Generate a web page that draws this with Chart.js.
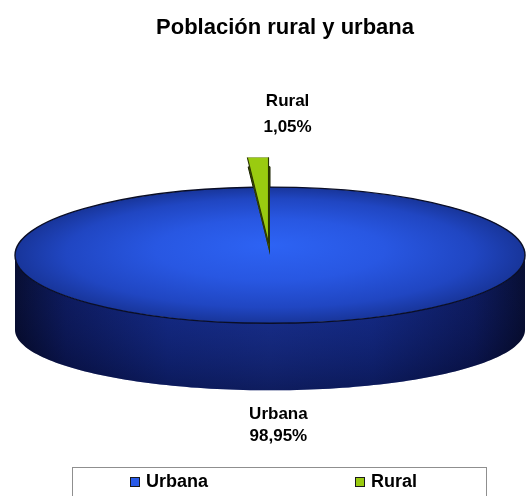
<!DOCTYPE html>
<html lang="es">
<head>
<meta charset="utf-8">
<title>Población rural y urbana</title>
<script src="https://cdn.jsdelivr.net/npm/chart.js@4.4.1/dist/chart.umd.min.js"></script>
<style>
  html, body { margin: 0; padding: 0; background: #fff; }
  #box { width: 527px; height: 496px; position: relative; }
</style>
</head>
<body>
<div id="box"><canvas id="poblacion"></canvas></div>
<script>
const categorias = ['Urbana', 'Rural'];
const porcentajes = [98.95, 1.05];
const coloresCara = ['#2a5be8', '#9acb10'];   // top faces, legend squares
const coloresLado = ['#13267c', '#3f5400'];   // walls / cut faces

const FONT = "'Liberation Sans', Arial, sans-serif";
const RADIO = 100;          // pie radius before flattening
const INCLINACION = 0.267;  // ry / rx of the top face
const ALTO = 0.292;         // wall height / rx
const FONDO = 0.238;        // ry of the bottom rim / rx
const ALZA = 12;            // px the small slice is pulled out
const ESTIRA = 1.26;        // the pulled slice leans towards the viewer

const pct = v => v.toFixed(2).replace('.', ',') + '%';

function geo(chart) {
  const arc = chart.getDatasetMeta(0).data[0];
  const rx = chart.chartArea.width / 2 - 2;
  const ry = rx * INCLINACION;
  return {
    cx: arc.x, cy: arc.y, R: arc.outerRadius, rx, ry,
    sx: rx / arc.outerRadius, sy: ry / arc.outerRadius,
    wall: rx * ALTO, floor: rx * FONDO
  };
}

// scale about the pie centre so the circle becomes the flat ellipse
function aplanar(ctx, g) {
  ctx.translate(g.cx, g.cy);
  ctx.scale(g.sx, g.sy);
  ctx.translate(-g.cx, -g.cy);
}

function colorCara(c) {
  const ca = c.chart.chartArea;
  if (!ca || c.dataIndex !== 0) return coloresCara[c.dataIndex];
  const cx = (ca.left + ca.right) / 2, cy = (ca.top + ca.bottom) / 2;
  const grad = c.chart.ctx.createRadialGradient(cx, cy - RADIO * 0.15, 0, cx, cy, RADIO);
  grad.addColorStop(0, '#2d63f4');
  grad.addColorStop(0.45, '#2857e2');
  grad.addColorStop(0.8, '#2046c2');
  grad.addColorStop(1, '#18359a');
  return grad;
}

function pared(ctx, g, s, e) {
  const n = 120;
  ctx.beginPath();
  for (let k = 0; k <= n; k++) {
    const t = s + (e - s) * k / n;
    const x = g.cx + g.rx * Math.cos(t), y = g.cy + g.ry * Math.sin(t);
    k ? ctx.lineTo(x, y) : ctx.moveTo(x, y);
  }
  for (let k = n; k >= 0; k--) {
    const t = s + (e - s) * k / n;
    ctx.lineTo(g.cx + g.rx * Math.cos(t), g.cy + g.wall + g.floor * Math.sin(t));
  }
  ctx.closePath();
}

let guardado = null;

const pastel3d = {
  id: 'pastel3d',
  afterLayout(chart) {
    // title sits a little right of the pie centre
    chart.titleBlock.left += 15;
    chart.titleBlock.right += 15;
  },
  beforeDatasetsDraw(chart) {
    const ctx = chart.ctx, g = geo(chart);
    const arcs = chart.getDatasetMeta(0).data;

    // front walls (canvas angles 0..PI face the viewer)
    arcs.forEach((arc, i) => {
      const s = Math.max(arc.startAngle, 0), e = Math.min(arc.endAngle, Math.PI);
      if (e <= s) return;
      pared(ctx, g, s, e);
      const h = ctx.createLinearGradient(g.cx - g.rx, 0, g.cx + g.rx, 0);
      h.addColorStop(0, '#03061c');
      h.addColorStop(0.1, '#0a1550');
      h.addColorStop(0.3, '#122882');
      h.addColorStop(0.5, '#172e8c');
      h.addColorStop(0.7, '#122882');
      h.addColorStop(0.9, '#0a1550');
      h.addColorStop(1, '#03061c');
      ctx.fillStyle = i === 0 ? h : coloresLado[i];
      ctx.fill();
      const v = ctx.createLinearGradient(0, g.cy, 0, g.cy + g.wall + g.floor);
      v.addColorStop(0, 'rgba(40,70,200,0.12)');
      v.addColorStop(1, 'rgba(0,0,20,0.38)');
      ctx.fillStyle = v;
      ctx.fill();
    });

    // cut face of the pulled slice, seen through the gap it leaves
    const rural = arcs[1];
    ctx.save();
    aplanar(ctx, g);
    ctx.beginPath();
    ctx.moveTo(g.cx, g.cy);
    ctx.arc(g.cx, g.cy, g.R * 1.3, rural.startAngle, rural.endAngle);
    ctx.closePath();
    ctx.restore();
    ctx.fillStyle = coloresLado[1];
    ctx.fill();
    ctx.lineWidth = 1;
    ctx.strokeStyle = '#1a2200';
    ctx.stroke();
  },
  beforeDatasetDraw(chart) {
    const g = geo(chart);
    chart.ctx.save();
    aplanar(chart.ctx, g);
    // pull the small slice out along its mid angle
    const rural = chart.getDatasetMeta(0).data[1];
    const m = (rural.startAngle + rural.endAngle) / 2;
    guardado = { x: rural.x, y: rural.y, r: rural.outerRadius };
    rural.x += Math.cos(m) * ALZA / g.sy;
    rural.y += Math.sin(m) * ALZA / g.sy;
    rural.outerRadius = g.R * ESTIRA;
  },
  afterDatasetDraw(chart) {
    const rural = chart.getDatasetMeta(0).data[1];
    rural.x = guardado.x;
    rural.y = guardado.y;
    rural.outerRadius = guardado.r;
    chart.ctx.restore();
  },
  afterDatasetsDraw(chart) {
    const ctx = chart.ctx, g = geo(chart);
    const arcs = chart.getDatasetMeta(0).data;
    const urbana = arcs[0], rural = arcs[1];

    // rim of the top face
    ctx.save();
    aplanar(ctx, g);
    ctx.beginPath();
    ctx.arc(g.cx, g.cy, g.R, urbana.startAngle, urbana.endAngle);
    ctx.restore();
    ctx.lineWidth = 1.4;
    ctx.strokeStyle = '#0a0e26';
    ctx.stroke();

    // slice labels
    ctx.fillStyle = '#000';
    ctx.font = 'bold 17px ' + FONT;
    ctx.textAlign = 'center';
    ctx.textBaseline = 'middle';

    let m = (urbana.startAngle + urbana.endAngle) / 2;
    let x = g.cx + g.rx * Math.cos(m);
    let y = g.cy + g.wall + g.floor * Math.sin(m);
    ctx.fillText(categorias[0], x, y + 24);
    ctx.fillText(pct(porcentajes[0]), x, y + 46);

    // the small slice's label is set off to the right of the sliver
    m = (rural.startAngle + rural.endAngle) / 2;
    x = g.cx + g.rx * Math.cos(m) + 26;
    y = g.cy + g.R * ESTIRA * g.sy * Math.sin(m) - ALZA;
    ctx.fillText(categorias[1], x, y - 56);
    ctx.fillText(pct(porcentajes[1]), x, y - 30);
  },
  afterDraw(chart) {
    // legend frame and entries
    const ctx = chart.ctx;
    ctx.save();
    ctx.strokeStyle = '#8f8f8f';
    ctx.lineWidth = 1;
    ctx.strokeRect(72.5, 467.5, 414, 40);
    ctx.font = 'bold 18px ' + FONT;
    ctx.textBaseline = 'middle';
    ctx.textAlign = 'left';
    const xs = [130, 355];
    categorias.forEach((nombre, i) => {
      ctx.fillStyle = coloresCara[i];
      ctx.fillRect(xs[i], 477, 10, 10);
      ctx.strokeStyle = '#1a1a1a';
      ctx.strokeRect(xs[i] + 0.5, 477.5, 9, 9);
      ctx.fillStyle = '#000';
      ctx.fillText(nombre, xs[i] + 16, 482);
    });
    ctx.restore();
  }
};

new Chart(document.getElementById('poblacion'), {
  type: 'pie',
  data: {
    labels: categorias,
    datasets: [{
      data: porcentajes,
      backgroundColor: colorCara,
      borderColor: ['rgba(0,0,0,0)', '#2a3400'],
      borderWidth: [0, 0.45],
      radius: RADIO,
      clip: false
    }]
  },
  options: {
    responsive: true,
    maintainAspectRatio: false,
    animation: false,
    layout: { padding: { left: 13, right: 0, top: 0, bottom: 47 } },
    plugins: {
      title: {
        display: true,
        text: 'Población rural y urbana',
        color: '#000',
        font: { family: FONT, size: 22, weight: 'bold' },
        padding: { top: 15, bottom: 20 }
      },
      legend: { display: false },
      tooltip: { enabled: false }
    }
  },
  plugins: [pastel3d]
});
</script>
</body>
</html>
